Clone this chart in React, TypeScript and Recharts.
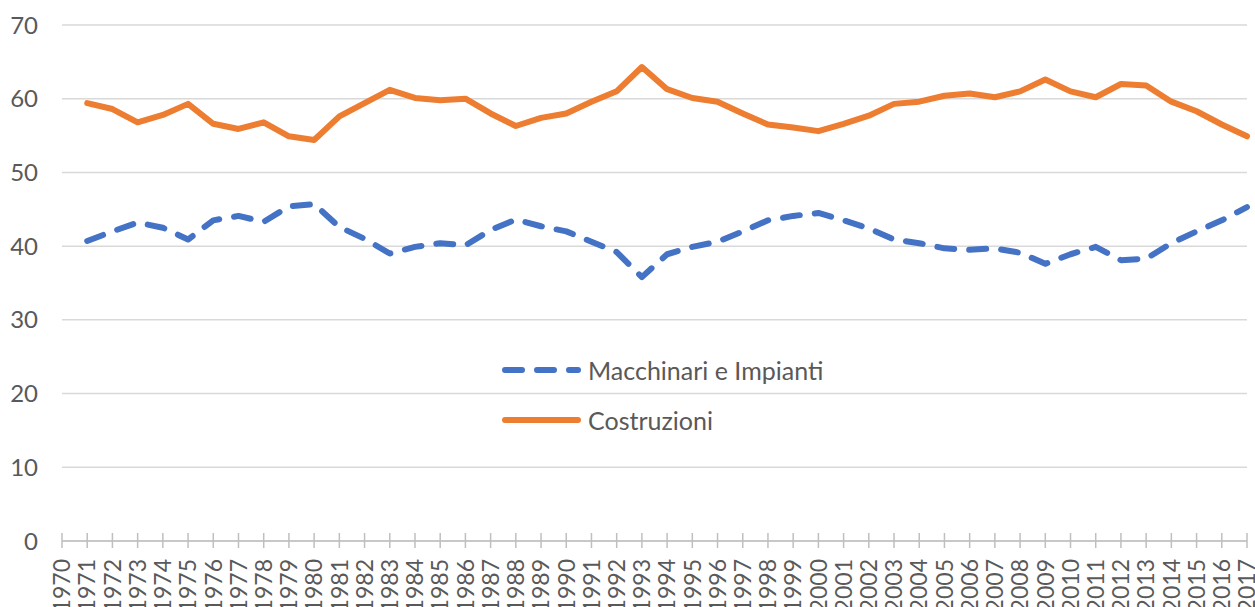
import { CartesianGrid, Legend, Line, LineChart, XAxis, YAxis } from "recharts";

const YEARS = [
  "1970", "1971", "1972", "1973", "1974", "1975", "1976", "1977", "1978", "1979",
  "1980", "1981", "1982", "1983", "1984", "1985", "1986", "1987", "1988", "1989",
  "1990", "1991", "1992", "1993", "1994", "1995", "1996", "1997", "1998", "1999",
  "2000", "2001", "2002", "2003", "2004", "2005", "2006", "2007", "2008", "2009",
  "2010", "2011", "2012", "2013", "2014", "2015", "2016", "2017",
];

// 1970 has no value
const MACCHINARI = [
  null, 40.7, 42.0, 43.2, 42.5, 40.9, 43.5, 44.1, 43.3, 45.4,
  45.7, 42.6, 41.0, 39.0, 39.9, 40.4, 40.1, 42.2, 43.6, 42.7,
  42.0, 40.6, 39.2, 35.8, 38.9, 39.9, 40.6, 42.0, 43.5, 44.1,
  44.5, 43.5, 42.4, 40.9, 40.4, 39.7, 39.5, 39.7, 39.1, 37.6,
  38.9, 39.9, 38.1, 38.3, 40.4, 42.0, 43.5, 45.3,
];

const COSTRUZIONI = [
  null, 59.4, 58.6, 56.8, 57.8, 59.3, 56.6, 55.9, 56.8, 54.9,
  54.4, 57.6, 59.4, 61.2, 60.1, 59.8, 60.0, 58.0, 56.3, 57.4,
  58.0, 59.6, 61.0, 64.3, 61.3, 60.1, 59.6, 58.0, 56.5, 56.1,
  55.6, 56.6, 57.7, 59.3, 59.6, 60.4, 60.7, 60.2, 61.0, 62.6,
  61.0, 60.2, 62.0, 61.8, 59.6, 58.3, 56.5, 54.9,
];

const Y_TICKS = [0, 10, 20, 30, 40, 50, 60, 70];

const BLUE = "#4472C4";
const ORANGE = "#ED7D31";
const TEXT = "#595959";
const FONT = "Lato, 'Open Sans', sans-serif";
const DASH = "17 15";

const data = YEARS.map((year, i) => ({
  year,
  macchinari: MACCHINARI[i],
  costruzioni: COSTRUZIONI[i],
}));

function YearTick({ x, y, payload }: any) {
  return (
    <g>
      <line x1={x} x2={x} y1={y - 8} y2={y + 7} stroke="#BFBFBF" strokeWidth={1.5} />
      <text
        x={x}
        y={y + 18}
        transform={`rotate(-90 ${x} ${y + 18})`}
        textAnchor="end"
        dy="0.36em"
        fill={TEXT}
        fontSize={23}
        fontFamily={FONT}
      >
        {payload.value}
      </text>
    </g>
  );
}

const LEGEND_ITEMS = [
  { name: "Macchinari e Impianti", color: BLUE, dash: DASH },
  { name: "Costruzioni", color: ORANGE, dash: undefined },
];

function LegendBox() {
  return (
    <div>
      {LEGEND_ITEMS.map((item) => (
        <div key={item.name} style={{ display: "flex", alignItems: "center", height: 50 }}>
          <svg width={86} height={12}>
            <line
              x1={3}
              x2={76}
              y1={6}
              y2={6}
              stroke={item.color}
              strokeWidth={6}
              strokeLinecap="round"
              strokeDasharray={item.dash}
            />
          </svg>
          <span style={{ fontFamily: FONT, fontSize: 25, color: TEXT, lineHeight: 1 }}>{item.name}</span>
        </div>
      ))}
    </div>
  );
}

export default function App() {
  return (
    <div style={{ position: "absolute", left: 0, top: 0, background: "#fff" }}>
      <LineChart width={1255} height={607} data={data} margin={{ top: 25, right: 8, left: 0, bottom: 0 }}>
        <CartesianGrid stroke="#D9D9D9" strokeWidth={1.5} vertical={false} />
        <XAxis
          dataKey="year"
          interval={0}
          height={66}
          axisLine={{ stroke: "#BFBFBF", strokeWidth: 1.5 }}
          tickLine={false}
          tickSize={0}
          tickMargin={0}
          tick={<YearTick />}
        />
        <YAxis
          domain={[0, 70]}
          ticks={Y_TICKS}
          width={62}
          axisLine={false}
          tickLine={false}
          tickSize={0}
          tickMargin={24}
          tick={{ fill: TEXT, fontSize: 24, fontFamily: FONT }}
        />
        <Legend
          layout="vertical"
          align="center"
          verticalAlign="middle"
          content={() => <LegendBox />}
          wrapperStyle={{ position: "absolute", left: 502, top: 345, width: "auto" }}
        />
        <Line
          dataKey="macchinari"
          name="Macchinari e Impianti"
          stroke={BLUE}
          strokeWidth={6}
          strokeDasharray={DASH}
          strokeLinecap="round"
          strokeLinejoin="round"
          dot={false}
          isAnimationActive={false}
        />
        <Line
          dataKey="costruzioni"
          name="Costruzioni"
          stroke={ORANGE}
          strokeWidth={6}
          strokeLinecap="round"
          strokeLinejoin="round"
          dot={false}
          isAnimationActive={false}
        />
      </LineChart>
    </div>
  );
}
